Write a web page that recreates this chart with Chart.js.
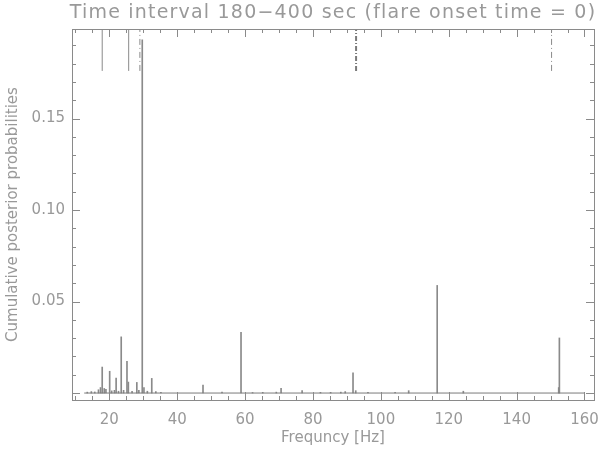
<!DOCTYPE html>
<html>
<head>
<meta charset="utf-8">
<script src="https://cdn.jsdelivr.net/npm/chart.js@4/dist/chart.umd.min.js"></script>
<style>
  body { margin: 0; background: #fff; }
  #wrap { width: 600px; height: 451px; }
</style>
</head>
<body>
<div id="wrap"><canvas id="chart" width="600" height="451"></canvas></div>
<script>
// spectrum spikes (frequency in Hz, cumulative posterior probability)
const freqs = [13.5, 14.7, 15.7, 16.8, 17.4, 17.9, 18.5, 19.0, 20.1, 20.7, 21.5, 22.0, 22.7,
               23.5, 24.2, 25.2, 25.6, 26.7, 28.1, 28.7, 29.7, 30.2, 31.2, 32.5, 33.7, 35.2,
               47.6, 53.2, 58.8, 62.2, 65.2, 69.2, 70.6, 76.8, 82.2, 85.2, 88.2, 89.5, 91.8,
               92.6, 96.2, 104.2, 108.2, 116.6, 124.3, 152.4, 152.6];
const probs = [0.0005, 0.0008, 0.0006, 0.0018, 0.003, 0.0142, 0.0025, 0.002, 0.0119, 0.0012, 0.0015, 0.0082, 0.001,
               0.0307, 0.0015, 0.0173, 0.006, 0.001, 0.0058, 0.0015, 0.193, 0.003, 0.001, 0.008, 0.0008, 0.0004,
               0.0044, 0.0005, 0.0332, 0.0003, 0.0004, 0.0005, 0.0026, 0.0013, 0.0004, 0.0004, 0.0005, 0.0008, 0.011,
               0.0013, 0.0004, 0.0004, 0.0013, 0.0588, 0.001, 0.003, 0.0301];
// frequency span covered by the spectrum (zero level line)
const baseRange = [12.6, 160];
// marker lines hanging from the top of the plot
const markerFreqs = [17.9, 25.7, 29.0, 92.7, 150.3];
const markerDash = [[], [], [6, 3, 1, 3], [5, 2, 1, 2], [6, 3, 1, 3]];
const markerFrom = 0.176;
// axes
const xMin = 9.0, xMax = 162.8;
const yMin = -0.0038, yMax = 0.1989;
const xLabelTicks = [20, 40, 60, 80, 100, 120, 140, 160];
const yLabelTicks = [0.05, 0.10, 0.15];

const TEXT = '#999999';
const AXIS = '#8a8a8a';
const LINE = '#8a8a8a';
const FONT = '"DejaVu Sans", sans-serif';

document.addEventListener('DOMContentLoaded', function() {
    const spikes = freqs.map((f, i) => ({x: f, y: probs[i]}));

    const datasets = [{
        type: 'line',
        data: baseRange.map(f => ({x: f, y: 0})),
        borderColor: '#7a7a7a',
        borderWidth: 1,
        pointRadius: 0
    }, {
        type: 'bar',
        data: spikes,
        backgroundColor: LINE,
        barThickness: 1,
        borderWidth: 0
    }];
    markerFreqs.forEach((f, i) => {
        datasets.push({
            type: 'line',
            data: [{x: f, y: markerFrom}, {x: f, y: yMax}],
            borderColor: i === 3 ? '#7a7a7a' : LINE,
            borderWidth: i === 3 ? 2 : 1,
            borderDash: markerDash[i],
            pointRadius: 0
        });
    });

    // box with inward ticks on all four sides, plus the title
    const frame = {
        id: 'frame',
        afterDatasetsDraw(chart) {
            const {ctx, chartArea: a, scales: {x, y}} = chart;
            ctx.save();
            ctx.strokeStyle = AXIS;
            ctx.lineWidth = 1;
            ctx.strokeRect(a.left + 0.5, a.top + 0.5, a.right - a.left, a.bottom - a.top);
            ctx.beginPath();
            x.ticks.forEach(t => {
                const px = Math.round(x.getPixelForValue(t.value)) + 0.5;
                const len = t.value % 20 === 0 ? 8 : 4;
                ctx.moveTo(px, a.bottom); ctx.lineTo(px, a.bottom - len);
                ctx.moveTo(px, a.top); ctx.lineTo(px, a.top + len);
            });
            y.ticks.forEach(t => {
                if (t.value < 0) return;
                const py = Math.round(y.getPixelForValue(t.value)) + 0.5;
                const len = Math.round(t.value * 100) % 5 === 0 ? 8 : 4;
                ctx.moveTo(a.left, py); ctx.lineTo(a.left + len, py);
                ctx.moveTo(a.right, py); ctx.lineTo(a.right - len, py);
            });
            ctx.stroke();

            ctx.fillStyle = TEXT;
            ctx.font = '19px ' + FONT;
            ctx.letterSpacing = '1.2px';
            ctx.textAlign = 'center';
            ctx.textBaseline = 'middle';
            ctx.fillText('Time interval 180\u2212400 sec (flare onset time = 0)', (a.left + a.right) / 2, 13);
            ctx.restore();
        }
    };

    new Chart(document.getElementById('chart'), {
        data: {datasets: datasets},
        plugins: [frame],
        options: {
            responsive: false,
            animation: false,
            layout: {padding: {top: 29, right: 6, left: 0, bottom: 0}},
            plugins: {legend: {display: false}, tooltip: {enabled: false}},
            scales: {
                x: {
                    type: 'linear',
                    min: xMin,
                    max: xMax,
                    offset: false,
                    grid: {display: false, drawTicks: false, offset: false},
                    border: {display: false},
                    afterFit: s => { s.height = 51; s.paddingLeft = 0; s.paddingRight = 0; },
                    ticks: {
                        stepSize: 5,
                        includeBounds: false,
                        autoSkip: false,
                        maxRotation: 0,
                        padding: 11,
                        color: TEXT,
                        font: {family: FONT, size: 15},
                        callback: v => xLabelTicks.includes(v) ? String(v) : ''
                    },
                    title: {
                        display: true,
                        text: 'Frequncy [Hz]',
                        color: TEXT,
                        font: {family: FONT, size: 15},
                        padding: {top: 0, bottom: 4}
                    }
                },
                y: {
                    type: 'linear',
                    min: yMin,
                    max: yMax,
                    grid: {display: false, drawTicks: false},
                    border: {display: false},
                    afterFit: s => { s.width = 72; s.paddingTop = 0; s.paddingBottom = 0; },
                    ticks: {
                        stepSize: 0.01,
                        includeBounds: false,
                        autoSkip: false,
                        padding: 7,
                        color: TEXT,
                        font: {family: FONT, size: 15},
                        callback: v => {
                            const hit = yLabelTicks.find(t => Math.abs(t - v) < 1e-6);
                            return hit ? hit.toFixed(2) : '';
                        }
                    },
                    title: {
                        display: true,
                        text: 'Cumulative posterior probabilities',
                        color: TEXT,
                        font: {family: FONT, size: 15},
                        padding: {top: 4, bottom: 0}
                    }
                }
            }
        }
    });
});
</script>
</body>
</html>
